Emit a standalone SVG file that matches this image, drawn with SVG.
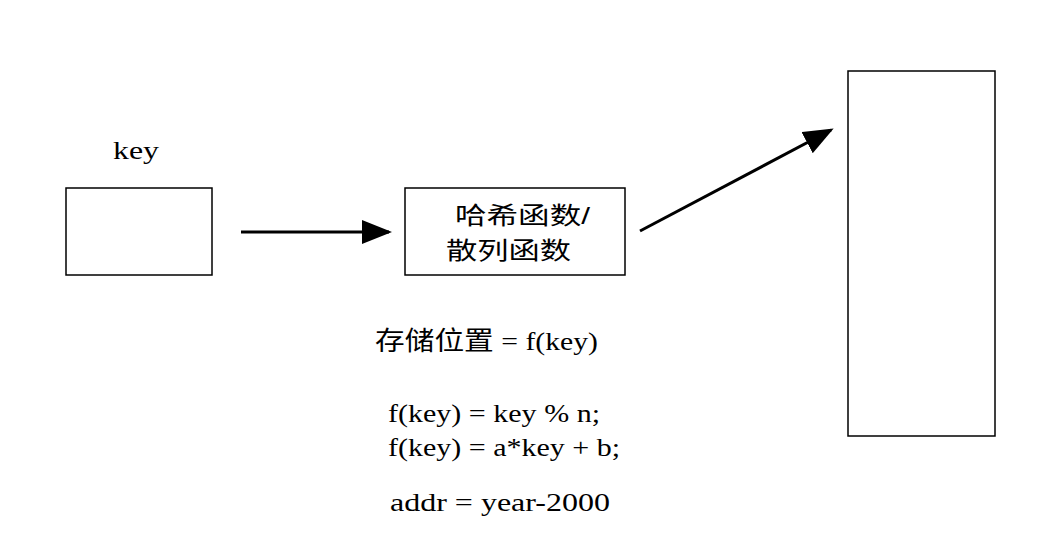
<svg xmlns="http://www.w3.org/2000/svg" width="1064" height="549" viewBox="0 0 1064 549">
<style>
.b{fill:#fff;stroke:#000;stroke-width:1.5}
.t{font-family:"Liberation Serif","Noto Sans CJK SC",serif;font-size:26px;fill:#000}
.c{font-family:"Liberation Sans","Noto Sans CJK SC",sans-serif;font-size:24px;fill:#000}
.l{stroke:#000;stroke-width:3;fill:none}
</style>
<defs><marker id="m" viewBox="0 0 10 8" refX="9" refY="4" markerWidth="30" markerHeight="24" orient="auto" markerUnits="userSpaceOnUse"><path d="M0,0L10,4L0,8z"/></marker></defs>
<rect width="1064" height="549" fill="#fff"/>
<g id="key"><rect class="b" x="66" y="188" width="146" height="87"/><text class="t" x="113" y="159" textLength="46" lengthAdjust="spacingAndGlyphs">key</text></g>
<g id="hash"><rect class="b" x="405" y="188" width="220" height="87"/><text class="c" x="455" y="224" textLength="135" lengthAdjust="spacingAndGlyphs">哈希函数/</text><text class="c" x="446" y="259" textLength="125" lengthAdjust="spacingAndGlyphs">散列函数</text></g>
<g id="store"><rect class="b" x="848" y="71" width="147" height="365"/></g>
<g id="connectors"><line class="l" x1="241" y1="232" x2="389" y2="232" marker-end="url(#m)"/><line class="l" x1="640" y1="231" x2="831" y2="130" marker-end="url(#m)"/></g>
<g id="text"><text class="t" x="375" y="350" textLength="223" lengthAdjust="spacingAndGlyphs">存储位置 = f(key)</text><text class="t" x="388" y="422" textLength="212" lengthAdjust="spacingAndGlyphs">f(key) = key % n;</text><text class="t" x="388" y="456" textLength="232" lengthAdjust="spacingAndGlyphs">f(key) = a*key + b;</text><text class="t" x="390" y="511" textLength="220" lengthAdjust="spacingAndGlyphs">addr = year-2000</text></g>
</svg>
